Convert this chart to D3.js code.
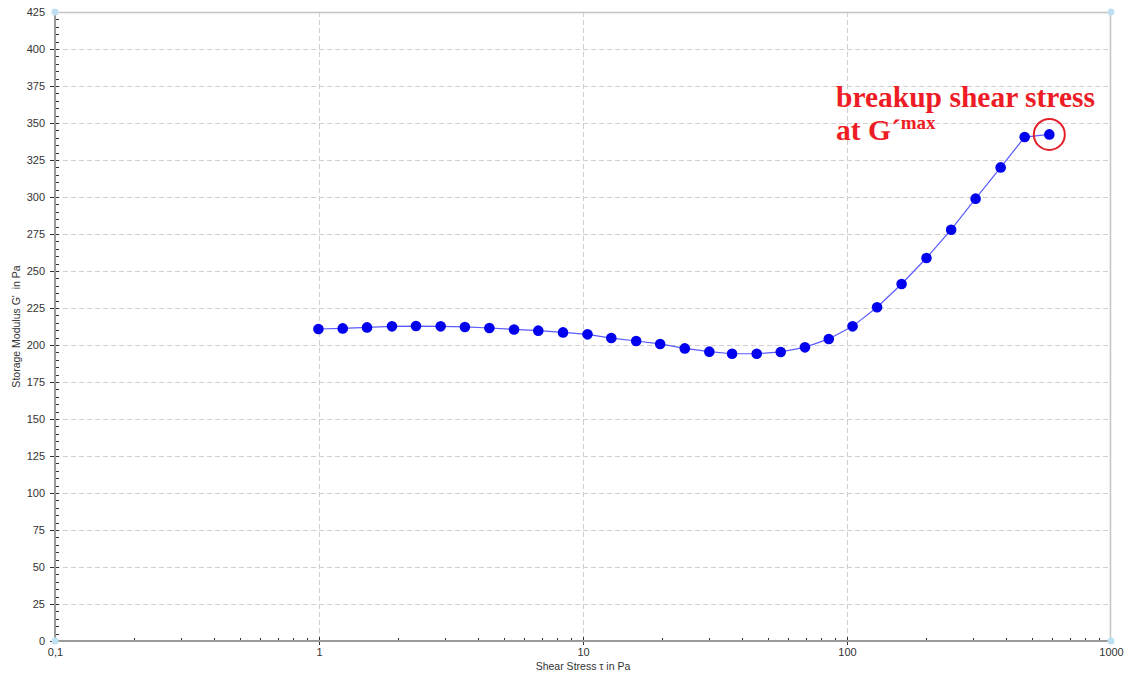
<!DOCTYPE html>
<html>
<head>
<meta charset="utf-8">
<script src="https://cdn.jsdelivr.net/npm/d3@7"></script>
<style>
  html, body { margin: 0; padding: 0; background: #fff; }
  svg { display: block; }
</style>
</head>
<body>
<svg id="chart" width="1131" height="675"></svg>
<script>
// Amplitude sweep: storage modulus G' versus shear stress
const shearStress = [0.995, 1.23, 1.52, 1.89, 2.33, 2.89, 3.57, 4.42, 5.48, 6.77, 8.40,
  10.4, 12.8, 15.9, 19.6, 24.3, 30.1, 36.7, 45.5, 56.1, 69.3, 85.3,
  105, 130, 161, 200, 248, 307, 382, 471, 584];
const storageModulus = [210.8, 211.2, 211.9, 212.6, 212.8, 212.6, 212.2, 211.5, 210.5, 209.7, 208.5,
  207.2, 204.7, 202.7, 200.7, 197.7, 195.5, 194.1, 194.1, 195.3, 198.4, 204.1,
  212.6, 225.5, 241.2, 258.8, 277.9, 298.9, 320.0, 340.5, 342.3];
const xTickValues = [0.1, 1, 10, 100, 1000];
const xTickLabels = ["0,1", "1", "10", "100", "1000"];
const yTickValues = d3.range(0, 426, 25);

const margin = { left: 55, right: 20, top: 12, bottom: 34 };
const W = 1131, H = 675;
const svg = d3.select("#chart");

const x = d3.scaleLog().domain([0.1, 1000]).range([margin.left, W - margin.right]);
const y = d3.scaleLinear().domain([0, 425]).range([H - margin.bottom, margin.top]);
const x0 = x.range()[0], x1 = x.range()[1], y0 = y.range()[0], y1 = y.range()[1];

const fontFam = "'Liberation Sans', Arial, sans-serif";

// grid
const grid = svg.append("g").attr("stroke", "#cfcfcf").attr("stroke-width", 1)
  .attr("stroke-dasharray", "5,3").attr("shape-rendering", "crispEdges");
grid.selectAll("line.h").data(yTickValues.filter(v => v > 0 && v < 425)).join("line")
  .attr("x1", x0).attr("x2", x1).attr("y1", d => Math.round(y(d)) + 0.5).attr("y2", d => Math.round(y(d)) + 0.5);
grid.selectAll("line.v").data([1, 10, 100]).join("line")
  .attr("y1", y1).attr("y2", y0).attr("x1", d => Math.round(x(d)) + 0.5).attr("x2", d => Math.round(x(d)) + 0.5);

// top and right frame
svg.append("path")
  .attr("d", `M${x0},${y1 + 0.5}H${x1 - 0.5}V${y0}`)
  .attr("fill", "none").attr("stroke", "#c4c4c4").attr("stroke-width", 1.5);

// y axis
const minorY = d3.range(0, 426, 5).filter(v => v % 25 !== 0);
const yAxis = svg.append("g").attr("transform", `translate(${x0},0)`)
  .call(d3.axisLeft(y).tickValues(yTickValues).tickSize(0).tickPadding(10).tickFormat(d3.format("d")));
yAxis.select(".domain").remove();
yAxis.selectAll("text").attr("font-family", fontFam).attr("font-size", 11).attr("fill", "#333");
const yt = svg.append("g").attr("stroke", "#333").attr("stroke-width", 1).attr("shape-rendering", "crispEdges");
yt.selectAll("line.mn").data(minorY).join("line")
  .attr("x1", x0).attr("x2", x0 + 4).attr("y1", d => Math.round(y(d)) + 0.5).attr("y2", d => Math.round(y(d)) + 0.5);
yt.selectAll("line.mj").data(yTickValues.filter(v => v < 425)).join("line")
  .attr("x1", x0 - 5).attr("x2", x0 + 4).attr("y1", d => Math.round(y(d)) + 0.5).attr("y2", d => Math.round(y(d)) + 0.5)
  .attr("stroke-width", 1.6);
svg.append("line").attr("x1", x0).attr("x2", x0).attr("y1", y1).attr("y2", y0)
  .attr("stroke", "#9a9a9a").attr("stroke-width", 2);

// x axis
const minorX = [];
[0.1, 1, 10, 100].forEach(d => { for (let k = 2; k <= 9; k++) minorX.push(d * k); });
const xAxis = svg.append("g").attr("transform", `translate(0,${y0})`)
  .call(d3.axisBottom(x).tickValues(xTickValues).tickSize(0).tickPadding(7)
    .tickFormat((d, i) => xTickLabels[i]));
xAxis.select(".domain").remove();
xAxis.selectAll("text").attr("font-family", fontFam).attr("font-size", 11).attr("fill", "#333");
const xt = svg.append("g").attr("stroke", "#333").attr("stroke-width", 1).attr("shape-rendering", "crispEdges");
xt.selectAll("line.mn").data(minorX).join("line")
  .attr("x1", d => Math.round(x(d)) + 0.5).attr("x2", d => Math.round(x(d)) + 0.5).attr("y1", y0 - 3).attr("y2", y0);
xt.selectAll("line.mj").data([1, 10, 100]).join("line")
  .attr("x1", d => Math.round(x(d)) + 0.5).attr("x2", d => Math.round(x(d)) + 0.5).attr("y1", y0 - 4).attr("y2", y0 + 4)
  .attr("stroke-width", 1.6);
svg.append("line").attr("x1", x0).attr("x2", x1).attr("y1", y0).attr("y2", y0)
  .attr("stroke", "#9a9a9a").attr("stroke-width", 2);

// corner markers
svg.append("g").selectAll("circle").data([[x0, y1], [x0, y0], [x1, y0], [x1, y1]]).join("circle")
  .attr("cx", d => d[0]).attr("cy", d => d[1]).attr("r", 3.5).attr("fill", "#bfe0f2");

// axis titles
svg.append("text").attr("x", (x0 + x1) / 2).attr("y", 670).attr("text-anchor", "middle")
  .attr("font-family", fontFam).attr("font-size", 10.5).attr("fill", "#333")
  .text("Shear Stress \u03c4 in Pa");
svg.append("text").attr("transform", `translate(20,${(y0 + y1) / 2}) rotate(-90)`)
  .attr("text-anchor", "middle").attr("font-family", fontFam).attr("font-size", 10.5).attr("fill", "#333")
  .text("Storage Modulus G'\u00a0 in Pa");

// data
const pts = shearStress.map((d, i) => [d, storageModulus[i]]);
svg.append("path").datum(pts)
  .attr("d", d3.line().x(d => x(d[0])).y(d => y(d[1])))
  .attr("fill", "none").attr("stroke", "#5a5aff").attr("stroke-width", 1.2);
svg.append("g").selectAll("circle").data(pts).join("circle")
  .attr("cx", d => x(d[0])).attr("cy", d => y(d[1])).attr("r", 5.3).attr("fill", "#0000ee");

// annotation at the maximum
const last = pts[pts.length - 1];
svg.append("circle").attr("cx", x(last[0])).attr("cy", y(last[1])).attr("r", 15.5)
  .attr("fill", "none").attr("stroke", "#e4202a").attr("stroke-width", 2);
const serif = "'Liberation Serif', 'Times New Roman', serif";
svg.append("text").attr("font-family", serif).attr("font-weight", "bold")
  .attr("fill", "#ee1c25").attr("font-size", 29.5)
  .attr("x", 836).attr("y", 107).text("breakup shear stress");
const line2 = svg.append("text").attr("font-family", serif).attr("font-weight", "bold")
  .attr("fill", "#ee1c25").attr("font-size", 29.5)
  .attr("x", 836).attr("y", 140);
line2.append("tspan").text("at G\u00b4");
line2.append("tspan").attr("font-size", 19).attr("dy", -11).text("max");
</script>
</body>
</html>
